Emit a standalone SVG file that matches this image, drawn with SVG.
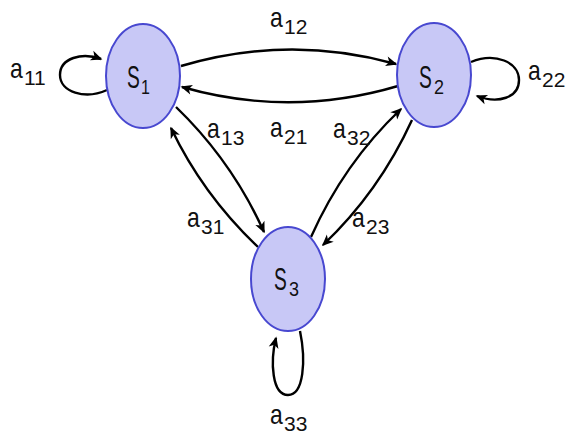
<svg xmlns="http://www.w3.org/2000/svg" width="567" height="442" viewBox="0 0 567 442">
<style>
.node{fill:#c8c8f6;stroke:#4848d0;stroke-width:2}
.edge{fill:none;stroke:#000;stroke-width:2.4}
.lbl{font-family:"Liberation Sans",Arial,sans-serif;fill:#111}
.m{font-size:28px}
.s{font-size:21px}
.nm{font-size:32px}
.ns{font-size:20px}
</style>
<defs>
<marker id="arr" viewBox="-12 -6 14 12" refX="0" refY="0" markerWidth="14" markerHeight="12" markerUnits="userSpaceOnUse" orient="auto">
<path d="M1.5,0 L-10,-5 L-7,0 L-10,5 Z" fill="#000"/>
</marker>
</defs>
<rect width="567" height="442" fill="#fff"/>
<g id="connectors">
<path class="edge" d="M181,66 Q289,34 396,64" marker-end="url(#arr)"/>
<path class="edge" d="M398,86 Q290,118 182,87" marker-end="url(#arr)"/>
<path class="edge" d="M176,107 Q232,161 264,232" marker-end="url(#arr)"/>
<path class="edge" d="M258,247 Q203,195 171,128" marker-end="url(#arr)"/>
<path class="edge" d="M311,237 Q344,163 401,109" marker-end="url(#arr)"/>
<path class="edge" d="M412,120 Q379,192 323,245" marker-end="url(#arr)"/>
<path class="edge" d="M107,90 C85,100 60,92 60,75 C60,58 82,52 101,59" marker-end="url(#arr)"/>
<path class="edge" d="M471,62 C495,52 519,62 519,80 C519,98 498,104 477,96" marker-end="url(#arr)"/>
<path class="edge" d="M300,331 C306,360 304,395 288,395 C272,395 270,362 276,338" marker-end="url(#arr)"/>
<g class="lbl">
<text class="m" transform="translate(10,78) scale(0.82,1)">a</text><text class="s" x="24" y="85">11</text>
<text class="m" transform="translate(270,27) scale(0.82,1)">a</text><text class="s" x="284" y="34">12</text>
<text class="m" transform="translate(270,137) scale(0.82,1)">a</text><text class="s" x="284" y="144">21</text>
<text class="m" transform="translate(528,80) scale(0.82,1)">a</text><text class="s" x="542" y="87">22</text>
<text class="m" transform="translate(207,138) scale(0.82,1)">a</text><text class="s" x="221" y="145">13</text>
<text class="m" transform="translate(187,227) scale(0.82,1)">a</text><text class="s" x="201" y="234">31</text>
<text class="m" transform="translate(333,138) scale(0.82,1)">a</text><text class="s" x="347" y="145">32</text>
<text class="m" transform="translate(352,227) scale(0.82,1)">a</text><text class="s" x="366" y="234">23</text>
<text class="m" transform="translate(270,424) scale(0.82,1)">a</text><text class="s" x="284" y="431">33</text>
</g>
</g>
<g id="S1">
<ellipse class="node" cx="143" cy="76" rx="37" ry="52"/>
<text class="lbl nm" transform="translate(127,88) scale(0.6,1)">S</text><text class="lbl ns" transform="translate(141,94) scale(0.8,1)">1</text>
</g>
<g id="S2">
<ellipse class="node" cx="434" cy="75" rx="37" ry="52"/>
<text class="lbl nm" transform="translate(419,88) scale(0.6,1)">S</text><text class="lbl ns" transform="translate(434,94) scale(0.9,1)">2</text>
</g>
<g id="S3">
<ellipse class="node" cx="288" cy="279" rx="37" ry="52"/>
<text class="lbl nm" transform="translate(274,290) scale(0.6,1)">S</text><text class="lbl ns" transform="translate(289,296) scale(0.9,1)">3</text>
</g>
</svg>
